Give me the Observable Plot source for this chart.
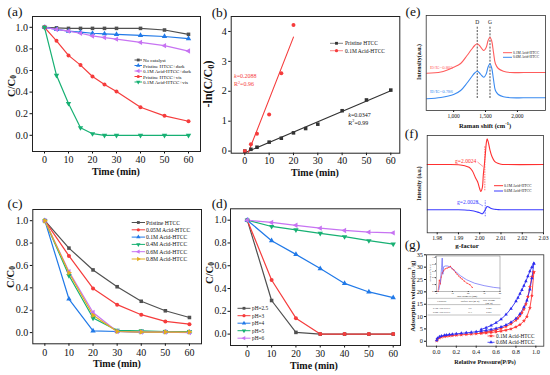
<!DOCTYPE html>
<html><head><meta charset="utf-8">
<script src="https://cdn.jsdelivr.net/npm/d3@7"></script>
<script src="https://cdn.jsdelivr.net/npm/@observablehq/plot@0.6"></script>
<style>
body{margin:0;background:#fff;}
#fig{position:relative;width:550px;height:375px;overflow:hidden;background:#fff;}
</style></head>
<body><div id="fig"></div>
<script>
// ================= DATA =================
// (a) degradation under different conditions
const timeA = [0,5,10,15,20,25,30,40,50,60];
const seriesA = ["No catalyst","Pristine HTCC+dark","0.1M Acid-HTCC+dark","Pristine HTCC+vis","0.1M Acid-HTCC+vis"];
const aNoCatalyst   = [1.0,0.995,0.99,0.99,0.99,0.99,0.99,0.99,0.975,0.935];
const aPristineDark = [1.0,0.98,0.965,0.955,0.945,0.94,0.935,0.925,0.915,0.895];
const aAcidDark     = [1.0,0.98,0.965,0.945,0.92,0.905,0.89,0.86,0.83,0.78];
const aPristineVis  = [1.0,0.875,0.74,0.65,0.545,0.47,0.405,0.26,0.18,0.13];
const aAcidVis      = [1.0,0.555,0.295,0.07,0.015,0.0,0.0,0.0,0.0,0.0];
// (b) kinetics -ln(C/C0)
const seriesB = ["Pristine HTCC","0.1M Acid-HTCC"];
const timeB1 = [0,2.5,5,10,15,20,25,30,40,50,60];
const bPristine = [0,0.06,0.13,0.30,0.43,0.61,0.755,0.90,1.35,1.71,2.04];
const timeB2 = [0,2.5,5,10,15,20];
const bAcid = [0,0.23,0.58,1.22,2.6,4.22];
const kB = ["0.0347","0.2088"];
const r2B = ["0.99","0.96"];
// (c) acid concentration
const timeC = [0,10,20,30,40,50,60];
const seriesC = ["Pristine HTCC","0.05M Acid-HTCC","0.1M Acid-HTCC","0.4M Acid-HTCC","0.6M Acid-HTCC","0.8M Acid-HTCC"];
const cPristine = [1.0,0.755,0.56,0.41,0.28,0.195,0.135];
const c005 = [1.0,0.685,0.395,0.25,0.16,0.10,0.075];
const c01  = [1.0,0.30,0.015,0.01,0.005,0.005,0.005];
const c04  = [1.0,0.51,0.13,0.02,0.015,0.01,0.01];
const c06  = [1.0,0.545,0.18,0.01,0.005,0.005,0.0];
const c08  = [1.0,0.535,0.155,0.01,0.005,0.005,0.005];
// (d) pH
const timeD = [0,10,20,30,40,50,60];
const seriesD = ["pH=2.5","pH=3","pH=4","pH=5","pH=6"];
const dPH25 = [1.0,0.295,0.015,0.0,0.0,0.0,0.0];
const dPH3  = [1.0,0.475,0.14,0.0,0.0,0.0,0.0];
const dPH4  = [1.0,0.82,0.70,0.575,0.445,0.37,0.32];
const dPH5  = [1.0,0.945,0.915,0.885,0.855,0.82,0.79];
const dPH6  = [1.0,0.98,0.955,0.93,0.91,0.895,0.889];
// (e) Raman
const seriesE = ["0.1M Acid-HTCC","0.6M Acid-HTCC"];
const ramanShift = [580,800,1000,1110,1210,1280,1330,1370,1405,1440,1475,1510,1540,1570,1595,1625,1655,1700,1780,1890,2100,2440];
const ramanRed   = [37.3,38.5,43.3,47,55,61,65,66.7,65,62,60,63,70,73.3,70,58,46.7,42,39.3,38,38,38];
const ramanBlue  = [11.7,13,16,20,27.5,33.5,37.5,39.3,37.5,35,33.3,36.5,43.5,46.7,43,31,20,16,13.8,12.8,12.7,12.7];
const ramanBands = ["D","G"];
const ramanBandPos = [1370,1570];
const ratioE = ["0.805","0.786"];
// (f) EPR
const seriesF = ["0.1M Acid-HTCC","0.6M Acid-HTCC"];
const eprG    = [1.9753,1.985,1.990,1.993,1.995,1.9965,1.998,1.999,2.000,2.0005,2.0012,2.0017,2.0022,2.0027,2.0031,2.0035,2.0040,2.0048,2.0058,2.0070,2.0085,2.0100,2.0130,2.0300];
const eprRed  = [68.3,68.3,68.0,67,65.5,62,55,51,44,41.3,45,58,68.3,80,90,94,91,83,76,71.5,69.5,68.6,68.3,68.3];
const eprBlue = [23,23,23,22.8,22.5,22,21.3,20.7,20,19.6,19,20,21.5,23.5,25.2,26.3,26,25,24,23.5,23.2,23.0,23,23];
const gValues = ["2.0024","2.0028"];
const gMarkPos = [2.0024,2.0026];
const gMarkLo = [42,16];
const gMarkHi = [86,32];
// (g) N2 isotherms
const seriesG = ["0.1M Acid-HTCC","0.6M Acid-HTCC"];
const isoPAds = [0.003,0.01,0.03,0.05,0.08,0.1,0.13,0.16,0.2,0.25,0.3,0.35,0.4,0.45,0.5,0.55,0.6,0.65,0.7,0.75,0.8,0.84,0.88,0.91,0.94,0.96,0.98];
const redAds  = [0.2,0.9,1.4,1.7,1.95,2.05,2.2,2.3,2.45,2.6,2.75,2.9,3.05,3.2,3.35,3.55,3.8,4.1,4.5,5.0,5.8,6.7,8.2,10,13.5,18.5,28];
const blueAds = [0.4,1.2,1.8,2.15,2.4,2.55,2.7,2.85,3.0,3.2,3.4,3.6,3.85,4.1,4.4,4.75,5.2,5.8,6.6,7.7,9.2,11,13.8,16.5,21,25.5,31.5];
const isoPDes = [0.98,0.96,0.94,0.92,0.9,0.88,0.86,0.84,0.82,0.8,0.75,0.7,0.65,0.6,0.55,0.5,0.45];
const redDes  = [28,26,22,18,15,13,11.5,10.3,9.3,8.5,7.0,6.0,5.2,4.6,4.1,3.75,3.45];
const blueDes = [31.5,30,28.3,26.3,24.3,22.5,20.8,19.2,17.6,16.2,13.2,10.8,8.9,7.5,6.4,5.5,4.8];
// (g) inset pore size distribution
const psdRedD  = [1.0,1.8,2.4,3.0,3.6,4.5,5.5,6.7,7.8,8.8,9.8,10.9,12,13,14,15,16.2,17.5,19.3,21,22.5];
const psdRed   = [0.0,0.33,0.22,0.42,0.54,0.6,0.66,0.68,0.7,0.73,0.66,0.63,0.55,0.5,0.45,0.4,0.36,0.3,0.24,0.2,0.12];
const psdBlueD = [1.5,2.5,3.2,3.6,4.0,4.5,5.5,7,9,12,15,19,24,30,36,40];
const psdBlue  = [0.05,0.3,0.7,0.97,0.5,0.72,0.74,0.74,0.7,0.58,0.46,0.34,0.24,0.17,0.12,0.1];
const tableHead = ["Catalysts","Surface area (m²/g)","Pore volume","(cm³/g)"];
const tableCat = ["0.1M Acid-HTCC","0.6M Acid-HTCC"];
const tableArea = ["9.9","11.3"];
const tableVol = ["0.043","0.051"];

// ================= STYLE =================
const FONT = "'Liberation Serif','Times New Roman',serif";
const GRAY="#505050", RED="#f53c3c", BLUE="#2079e8", GREEN="#17b073", VIOLET="#c773f2", ORANGE="#e3ad1f";
const sqrt3 = Math.sqrt(3);
function tri(rot){ return {draw(ctx,size){ const y=-Math.sqrt(size/(sqrt3*3)); const c=Math.cos(rot), s=Math.sin(rot);
  const p=[[0,y*2],[-sqrt3*y,-y],[sqrt3*y,-y]].map(([a,b])=>[a*c-b*s,a*s+b*c]);
  ctx.moveTo(p[0][0],p[0][1]); ctx.lineTo(p[1][0],p[1][1]); ctx.lineTo(p[2][0],p[2][1]); ctx.closePath(); }}; }
const SQ=d3.symbolSquare, CI=d3.symbolCircle, TU=d3.symbolTriangle, TD=tri(Math.PI), TL=tri(-Math.PI/2), TR=tri(Math.PI/2), ST=d3.symbolStar;

const fig = document.getElementById("fig");
function place(svg,left,top){ svg.style.position="absolute"; svg.style.left=left+"px"; svg.style.top=top+"px"; fig.appendChild(svg); }
const st = fs => ({fontFamily:FONT, fontSize:fs+"px", color:"#111", background:"none", overflow:"visible"});
const rows = (names, xs, ys) => names.flatMap((s,i)=> (Array.isArray(xs[0])?xs[i]:xs).map((t,j)=>({series:s, t, v:ys[i][j]})));

// ---------- (a) ----------
const rowsA = rows(seriesA, timeA, [aNoCatalyst,aPristineDark,aAcidDark,aPristineVis,aAcidVis]);
const colA = [GRAY,BLUE,VIOLET,RED,GREEN], symA=[SQ,TU,TL,CI,TD];
place(Plot.plot({width:205,height:185,marginLeft:32,marginRight:5,marginTop:16,marginBottom:34,
  x:{domain:[-5,65]}, y:{domain:[-0.15,1.1]},
  color:{domain:seriesA,range:colA}, symbol:{domain:seriesA,range:symA}, style:st(10),
  marks:[
    Plot.line(rowsA,{x:"t",y:"v",z:"series",stroke:"series",strokeWidth:1.2}),
    Plot.dot(rowsA,{x:"t",y:"v",symbol:"series",fill:"series",r:2}),
    Plot.axisX({ticks:[0,10,20,30,40,50,60],tickSize:2.5,tickPadding:1.5,label:null,tickFormat:d=>d}),
    Plot.axisY({ticks:[0,0.2,0.4,0.6,0.8,1.0],tickSize:2.5,tickPadding:2,label:null,tickFormat:".1f"}),
    Plot.frame({stroke:"#222",strokeWidth:1})
  ]}),0,0);

// ---------- (b) ----------
const rowsB = rows(seriesB, [timeB1,timeB2], [bPristine,bAcid]);
const colB=["#333",RED], symB=[SQ,CI];
place(Plot.plot({width:205,height:185,marginLeft:30.7,marginRight:5.7,marginTop:16,marginBottom:32.3,
  x:{domain:[-5.6,63.7]}, y:{domain:[-0.07,4.5]},
  color:{domain:seriesB,range:colB}, symbol:{domain:seriesB,range:symB}, style:st(10),
  marks:[
    Plot.linearRegressionY(rowsB,{x:"t",y:"v",z:"series",stroke:"series",strokeWidth:1.1,ci:0,clip:true}),
    Plot.dot(rowsB,{x:"t",y:"v",symbol:"series",fill:"series",r:2}),
    Plot.axisX({ticks:[0,10,20,30,40,50,60],tickSize:2.5,tickPadding:1.5,label:null,tickFormat:d=>d}),
    Plot.axisY({ticks:[0,1,2,3,4],tickSize:2.5,tickPadding:2,label:null,tickFormat:d=>d}),
    Plot.frame({stroke:"#222",strokeWidth:1})
  ]}),200,0);

// ---------- (c) ----------
const rowsC = rows(seriesC, timeC, [cPristine,c005,c01,c04,c06,c08]);
const colC=[GRAY,RED,BLUE,GREEN,VIOLET,ORANGE], symC=[SQ,CI,TU,TD,TL,TR];
place(Plot.plot({width:205,height:190,marginLeft:32.3,marginRight:4,marginTop:24,marginBottom:31.7,
  x:{domain:[-5,65]}, y:{domain:[-0.1,1.1]},
  color:{domain:seriesC,range:colC}, symbol:{domain:seriesC,range:symC}, style:st(10),
  marks:[
    Plot.line(rowsC,{x:"t",y:"v",z:"series",stroke:"series",strokeWidth:1.2}),
    Plot.dot(rowsC,{x:"t",y:"v",symbol:"series",fill:"series",r:2}),
    Plot.axisX({ticks:[0,10,20,30,40,50,60],tickSize:2.5,tickPadding:2.5,label:null,tickFormat:d=>d}),
    Plot.axisY({ticks:[0,0.2,0.4,0.6,0.8,1.0],tickSize:2.5,tickPadding:2,label:null,tickFormat:".1f"}),
    Plot.frame({stroke:"#222",strokeWidth:1})
  ]}),0,185);

// ---------- (d) ----------
const rowsD = rows(seriesD, timeD, [dPH25,dPH3,dPH4,dPH5,dPH6]);
const colD=[GRAY,RED,BLUE,GREEN,VIOLET], symD=[SQ,CI,TU,TD,TL];
place(Plot.plot({width:205,height:190,marginLeft:30,marginRight:5,marginTop:23.3,marginBottom:30,
  x:{domain:[-6.9,63]}, y:{domain:[-0.1,1.1]},
  color:{domain:seriesD,range:colD}, symbol:{domain:seriesD,range:symD}, style:st(9.6),
  marks:[
    Plot.line(rowsD,{x:"t",y:"v",z:"series",stroke:"series",strokeWidth:1.2}),
    Plot.dot(rowsD,{x:"t",y:"v",symbol:"series",fill:"series",r:2}),
    Plot.axisX({ticks:[0,10,20,30,40,50,60],tickSize:2.5,tickPadding:2.5,label:null,tickFormat:d=>d}),
    Plot.axisY({ticks:[0,0.2,0.4,0.6,0.8,1.0],tickSize:2.5,tickPadding:1.5,label:null,tickFormat:".1f"}),
    Plot.frame({stroke:"#222",strokeWidth:1})
  ]}),200,185);

// ---------- (e) ----------
const rowsE = rows(seriesE, ramanShift, [ramanRed,ramanBlue]);
const bandsE = ramanBands.map((b,i)=>({b,x:ramanBandPos[i]}));
place(Plot.plot({width:150,height:130,marginLeft:25.7,marginRight:5,marginTop:15,marginBottom:20,
  x:{domain:[570,2440]}, y:{domain:[0,95],axis:null},
  color:{domain:seriesE,range:["#ff5c5c","#3a8af0"]}, style:st(5.5),
  marks:[
    Plot.ruleX(bandsE,{x:"x",y1:12,y2:84,stroke:"#222",strokeWidth:0.8,strokeDasharray:"2,1.3"}),
    Plot.text(bandsE,{x:"x",y:88,text:"b",fontSize:5.5}),
    Plot.line(rowsE,{x:"t",y:"v",z:"series",stroke:"series",strokeWidth:1.1,curve:"catmull-rom"}),
    Plot.axisX({ticks:[1000,1500,2000],tickSize:2,tickPadding:1.5,label:null,tickFormat:d=>d}),
    Plot.frame({stroke:"#333",strokeWidth:0.8})
  ]}),400,0);

// ---------- (f) ----------
const rowsF = rows(seriesF, eprG, [eprRed,eprBlue]);
const marksF = seriesF.map((s,i)=>({series:s,g:gMarkPos[i],lo:gMarkLo[i],hi:gMarkHi[i]}));
place(Plot.plot({width:150,height:125,marginLeft:26.7,marginRight:7,marginTop:10,marginBottom:17.7,
  x:{domain:[1.9753,2.03]}, y:{domain:[0,97.3],axis:null},
  color:{domain:seriesF,range:["#ff3030","#3b3bff"]}, style:st(5.7),
  marks:[
    Plot.ruleX(marksF,{x:"g",y1:"lo",y2:"hi",stroke:"series",strokeWidth:0.7,strokeDasharray:"1.5,1"}),
    Plot.line(rowsF,{x:"t",y:"v",z:"series",stroke:"series",strokeWidth:1.1,curve:"catmull-rom"}),
    Plot.axisX({ticks:[1.98,1.99,2.00,2.01,2.02,2.03],tickSize:2,tickPadding:1.5,label:null,tickFormat:".2f"}),
    Plot.frame({stroke:"#333",strokeWidth:0.8})
  ]}),400,125);

// ---------- (g) ----------
const rowsG = [
  ...isoPAds.map((p,j)=>({series:seriesG[0],branch:"ra",t:p,v:redAds[j]})),
  ...isoPDes.map((p,j)=>({series:seriesG[0],branch:"rd",t:p,v:redDes[j]})),
  ...isoPAds.map((p,j)=>({series:seriesG[1],branch:"ba",t:p,v:blueAds[j]})),
  ...isoPDes.map((p,j)=>({series:seriesG[1],branch:"bd",t:p,v:blueDes[j]}))];
place(Plot.plot({width:150,height:130,marginLeft:26,marginRight:6.7,marginTop:9.3,marginBottom:29.3,
  x:{domain:[-0.1,1.08]}, y:{domain:[-2,35]},
  color:{domain:seriesG,range:["#ff3333","#2c2cf0"]}, symbol:{domain:seriesG,range:[ST,TU]}, style:st(6.3),
  marks:[
    Plot.line(rowsG,{x:"t",y:"v",z:"branch",stroke:"series",strokeWidth:0.9}),
    Plot.dot(rowsG,{x:"t",y:"v",symbol:"series",fill:"series",r:1.3}),
    Plot.axisX({ticks:[0,0.2,0.4,0.6,0.8,1.0],tickSize:2,tickPadding:1.5,label:null,tickFormat:".1f"}),
    Plot.axisY({ticks:[0,5,10,15,20,25,30,35],tickSize:2,tickPadding:1.5,label:null,tickFormat:d=>d}),
    Plot.frame({stroke:"#333",strokeWidth:0.8})
  ]}),400,245);

// inset
const rowsI = [...psdRedD.map((d,j)=>({series:seriesG[0],t:d,v:psdRed[j]})), ...psdBlueD.map((d,j)=>({series:seriesG[1],t:d,v:psdBlue[j]}))];
place(Plot.plot({width:74,height:42,marginLeft:8,marginRight:2.5,marginTop:3.5,marginBottom:3,
  x:{domain:[0,40]}, y:{domain:[0,1.03]},
  color:{domain:seriesG,range:["#ff3333","#4a4af5"]}, style:st(2.3),
  marks:[
    Plot.line(rowsI,{x:"t",y:"v",z:"series",stroke:"series",strokeWidth:0.6}),
    Plot.dot(rowsI.filter(d=>d.series===seriesG[0]),{x:"t",y:"v",fill:"series",r:0.6}),
    Plot.axisX({ticks:[0,10,20,30,40],tickSize:0.8,tickPadding:0.5,label:null,tickFormat:d=>d}),
    Plot.axisY({ticks:[0,0.2,0.4,0.6,0.8,1.0],tickSize:0.8,tickPadding:0.5,label:null,tickFormat:".1f"}),
    Plot.frame({stroke:"#555",strokeWidth:0.4})
  ]}),428,252);

// ================= OVERLAY TEXT / LEGENDS =================
const over = d3.select(fig).append("svg").attr("width",550).attr("height",375)
  .style("position","absolute").style("left","0px").style("top","0px").attr("font-family",FONT);
function rich(x,y,str,{size=10,weight="normal",color="#111",anchor="start",rotate=0}={}){
  const t = over.append("text").attr("transform",`translate(${x},${y})`+(rotate?` rotate(${rotate})`:""))
    .attr("font-size",size).attr("font-weight",weight).attr("fill",color).attr("text-anchor",anchor).attr("dominant-baseline","central");
  const re=/([_^])\{([^}]*)\}|\*([^*]+)\*/g; let last=0,m,cur=0;
  const add=(txt,off,sc,it)=>{ const sp=t.append("tspan").text(txt); if(off!==cur){sp.attr("dy",off-cur);cur=off;} if(sc!==1) sp.attr("font-size",size*sc); if(it) sp.attr("font-style","italic"); };
  while((m=re.exec(str))){ if(m.index>last) add(str.slice(last,m.index),0,1,false);
    if(m[3]) add(m[3],0,1,true); else add(m[2], m[1]==="_"?0.28*size:-0.38*size, 0.7, false); last=re.lastIndex; }
  if(last<str.length) add(str.slice(last),0,1,false);
  return t;
}
function legend(labels,colors,syms,{x0,x1,xt,ys,size,r=1.6,sw=1}){
  labels.forEach((lab,i)=>{ const y=ys[i];
    over.append("line").attr("x1",x0).attr("x2",x1).attr("y1",y).attr("y2",y).attr("stroke",colors[i]).attr("stroke-width",sw);
    if(syms) over.append("path").attr("d",d3.symbol(syms[i],Math.PI*r*r)()).attr("transform",`translate(${(x0+x1)/2},${y})`).attr("fill",colors[i]);
    rich(xt,y,lab,{size}); });
}
// panel letters
[["(a)",15,11],["(b)",219.5,12],["(c)",15,203],["(d)",219.5,203],["(e)",413,10.5],["(f)",411.5,133],["(g)",412.5,244]]
  .forEach(([s,x,y])=>rich(x,y,s,{size:13.5,anchor:"middle"}));
// axis titles
rich(10.5,86,"C/C_{0}",{size:10.5,weight:"bold",anchor:"middle",rotate:-90});
rich(116,171,"Time (min)",{size:10,weight:"bold",anchor:"middle"});
rich(208,84,"-ln(C/C_{0})",{size:12,weight:"bold",anchor:"middle",rotate:-90});
rich(315,172,"Time (min)",{size:10,weight:"bold",anchor:"middle"});
rich(9.5,277,"C/C_{0}",{size:10.5,weight:"bold",anchor:"middle",rotate:-90});
rich(117,363,"Time (min)",{size:10,weight:"bold",anchor:"middle"});
rich(208.5,273,"C/C_{0}",{size:10.5,weight:"bold",anchor:"middle",rotate:-90});
rich(314,365,"Time (min)",{size:10,weight:"bold",anchor:"middle"});
rich(419,62,"Intensity(a.u.)",{size:6,weight:"bold",anchor:"middle",rotate:-90});
rich(485,125,"Raman shift (cm^{-1})",{size:6.5,weight:"bold",anchor:"middle"});
rich(419,183.5,"Intensity (a.u.)",{size:5.5,weight:"bold",anchor:"middle",rotate:-90});
rich(467,245.5,"g-factor",{size:7,weight:"bold",anchor:"middle"});
rich(411.7,296,"Adsorption volume(cm^{3}/g)",{size:6.3,weight:"bold",anchor:"middle",rotate:-90});
rich(485,360.7,"Relative Pressure(P/P_{0})",{size:6.2,weight:"bold",anchor:"middle"});
// legends
legend(seriesA,colA,symA,{x0:134.5,x1:142,xt:143,ys:[60,65.5,71,76.5,82],size:5});
legend(seriesB,colB,symB,{x0:330,x1:343,xt:345,ys:[43.3,50.7],size:5.5,sw:0.6});
legend(seriesC,colC,symC,{x0:131.7,x1:145,xt:146,ys:[222.5,229.8,237.1,244.4,251.7,259],size:5.7});
legend(seriesD,colD,symD,{x0:237.5,x1:250.5,xt:252,ys:[308.3,315.7,323.2,330.7,338.2],size:5.3});
legend(seriesE,["#ff5c5c","#3a8af0"],null,{x0:503,x1:512,xt:513,ys:[52.7,57.3],size:3.6});
legend(seriesF,["#ff3030","#3b3bff"],null,{x0:494,x1:503,xt:504,ys:[185.7,191],size:3.8});
legend(seriesG,["#ff3333","#2c2cf0"],[ST,TU],{x0:487.5,x1:494.5,xt:496,ys:[336,342.3],size:5.3,r:1.3,sw:0.8});
// annotations (b)
rich(234,75.5,"*k*="+kB[1],{size:6,color:RED});
rich(234,84,"R^{2}="+r2B[1],{size:6,color:RED});
rich(348.3,115,"*k*="+kB[0],{size:6});
rich(348.3,122.7,"R^{2}="+r2B[0],{size:6});
// annotations (e)
rich(430,66.7,"I_{D}/I_{G}="+ratioE[0],{size:4.8,color:"#ff5c5c"});
rich(430,90.7,"I_{D}/I_{G}="+ratioE[1],{size:4.8,color:"#3a8af0"});
// annotations (f)
rich(455,160.7,"g="+gValues[0],{size:5.6,color:"#ff3030"});
rich(457,201.7,"g="+gValues[1],{size:5.6,color:"#3b3bff"});
over.append("line").attr("x1",477.5).attr("y1",162).attr("x2",483).attr("y2",166.5).attr("stroke","#ff3030").attr("stroke-width",0.5);
over.append("line").attr("x1",477).attr("y1",202.5).attr("x2",483).attr("y2",206).attr("stroke","#3b3bff").attr("stroke-width",0.5);
// inset labels and table (g)
rich(467,296,"Pore diameter (nm)",{size:2.6,anchor:"middle"});
rich(429.5,273,"dV/dD (cm^{3}/g·nm)",{size:2.3,anchor:"middle",rotate:-90});
[298.3,304.6,315].forEach(y=>over.append("line").attr("x1",427.5).attr("x2",500.5).attr("y1",y).attr("y2",y).attr("stroke","#666").attr("stroke-width",0.4));
rich(441.7,301.4,tableHead[0],{size:2.4,anchor:"middle"});
rich(470,301.4,tableHead[1],{size:2.4,anchor:"middle"});
rich(489,300.2,tableHead[2],{size:2.4,anchor:"middle"});
rich(489,302.8,tableHead[3],{size:2.4,anchor:"middle"});
tableCat.forEach((c,i)=>{ const y=307.8+i*4.6;
  rich(441.7,y,c,{size:2.4,anchor:"middle"}); rich(470,y,tableArea[i],{size:2.4,anchor:"middle"}); rich(489,y,tableVol[i],{size:2.4,anchor:"middle"}); });
</script>
</body></html>
